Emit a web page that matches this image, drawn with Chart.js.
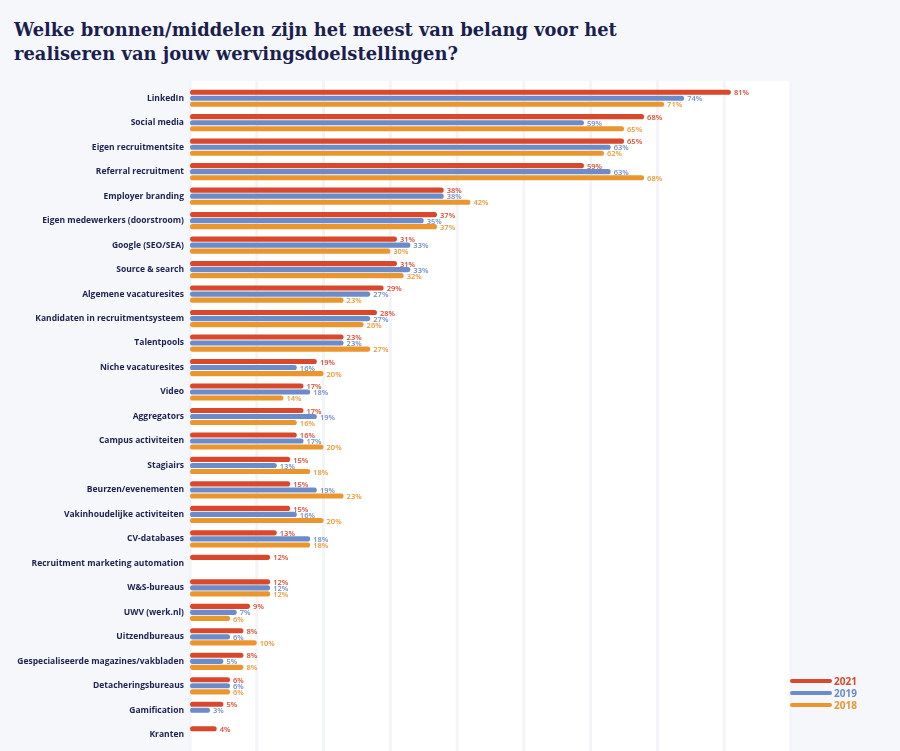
<!DOCTYPE html>
<html>
<head>
<meta charset="utf-8">
<script src="https://cdn.jsdelivr.net/npm/chart.js@4"></script>
<style>
  html, body { margin: 0; padding: 0; background: #f6f7fb; }
  #wrap { position: relative; width: 900px; height: 751px; }
  h1 {
    position: absolute; left: 14px; top: 18px; margin: 0;
    font-family: "DejaVu Serif", serif; font-weight: bold;
    font-size: 17.9px; line-height: 24px; color: #1b1f4d;
  }
  canvas { position: absolute; left: 0; top: 0; }
</style>
</head>
<body>
<div id="wrap">
  <h1>Welke bronnen/middelen zijn het meest van belang voor het<br>realiseren van jouw wervingsdoelstellingen?</h1>
  <canvas id="chart" width="900" height="751"></canvas>
</div>
<script>
const categories = [
  "LinkedIn", "Social media", "Eigen recruitmentsite", "Referral recruitment",
  "Employer branding", "Eigen medewerkers (doorstroom)", "Google (SEO/SEA)",
  "Source & search", "Algemene vacaturesites", "Kandidaten in recruitmentsysteem",
  "Talentpools", "Niche vacaturesites", "Video", "Aggregators", "Campus activiteiten",
  "Stagiairs", "Beurzen/evenementen", "Vakinhoudelijke activiteiten", "CV-databases",
  "Recruitment marketing automation", "W&S-bureaus", "UWV (werk.nl)", "Uitzendbureaus",
  "Gespecialiseerde magazines/vakbladen", "Detacheringsbureaus", "Gamification", "Kranten"
];
const values2021 = [81, 68, 65, 59, 38, 37, 31, 31, 29, 28, 23, 19, 17, 17, 16, 15, 15, 15, 13, 12, 12, 9, 8, 8, 6, 5, 4];
const values2019 = [74, 59, 63, 63, 38, 35, 33, 33, 27, 27, 23, 16, 18, 19, 17, 13, 19, 16, 18, null, 12, 7, 6, 5, 6, 3, null];
const values2018 = [71, 65, 62, 68, 42, 37, 30, 32, 23, 26, 27, 20, 14, 16, 20, 18, 23, 20, 18, null, 12, 6, 10, 8, 6, null, null];
const seriesNames = ["2021", "2019", "2018"];
const seriesColors = ["#d9482b", "#6a8ccb", "#eb952f"];

const navy = "#1b2050";

// witte achtergrond + verticale hulplijnen achter het plotgebied
const plotBg = {
  id: "plotBg",
  beforeDatasetsDraw(chart) {
    const { ctx, chartArea: a } = chart;
    const x = chart.scales.x;
    ctx.save();
    ctx.fillStyle = "#ffffff";
    ctx.fillRect(a.left - 1, a.top - 5, a.right - a.left + 1, chart.height - a.top + 5);
    ctx.strokeStyle = "#f3f4f9";
    ctx.lineWidth = 3;
    x.ticks.forEach(t => {
      const px = x.getPixelForValue(t.value);
      ctx.beginPath();
      ctx.moveTo(px, a.top - 5);
      ctx.lineTo(px, chart.height);
      ctx.stroke();
    });
    ctx.restore();
  }
};

// percentages achter de balken
const valueLabels = {
  id: "valueLabels",
  afterDatasetsDraw(chart) {
    const ctx = chart.ctx;
    ctx.save();
    ctx.font = "600 7.5px 'Open Sans'";
    ctx.textBaseline = "middle";
    chart.data.datasets.forEach((ds, i) => {
      chart.getDatasetMeta(i).data.forEach((bar, j) => {
        if (ds.data[j] == null) return;
        ctx.fillStyle = ds.backgroundColor;
        ctx.fillText(ds.data[j] + "%", bar.x + 3, bar.y + 1);
      });
    });
    ctx.restore();
  }
};

// legenda rechtsonder
const legendBox = {
  id: "legendBox",
  afterDraw(chart) {
    const ctx = chart.ctx;
    const x = chart.chartArea.right;
    ctx.save();
    ctx.font = "bold 10px 'Open Sans'";
    ctx.textBaseline = "middle";
    ctx.lineCap = "round";
    ctx.lineWidth = 4;
    seriesNames.forEach((name, i) => {
      const y = 681 + i * 12;
      ctx.strokeStyle = seriesColors[i];
      ctx.beginPath();
      ctx.moveTo(x + 1, y);
      ctx.lineTo(x + 39, y);
      ctx.stroke();
      ctx.fillStyle = seriesColors[i];
      ctx.fillText(name, x + 43, y + 1);
    });
    ctx.restore();
  }
};

new Chart(document.getElementById("chart"), {
  type: "bar",
  data: {
    labels: categories,
    datasets: [values2021, values2019, values2018].map((vals, i) => ({
      label: seriesNames[i],
      data: vals,
      backgroundColor: seriesColors[i],
      borderRadius: 3,
      borderSkipped: false,
      categoryPercentage: 0.74,
      barPercentage: 0.85,
    })),
  },
  options: {
    indexAxis: "y",
    responsive: false,
    animation: false,
    layout: { padding: { top: 86, right: 109, bottom: 4, left: 0 } },
    plugins: {
      legend: { display: false },
      tooltip: { enabled: false },
    },
    scales: {
      x: {
        display: false,
        min: 0,
        max: 90,
        ticks: { stepSize: 10 },
      },
      y: {
        ticks: {
          color: navy,
          font: { family: "'Open Sans'", size: 8.5, weight: "700" },
          padding: 6,
          autoSkip: false,
        },
        grid: { display: false, drawTicks: false },
        border: { display: false },
        afterFit(scale) {
          scale.width = 190;
          scale.paddingTop = 0;
          scale.paddingBottom = 0;
        },
      },
    },
  },
  plugins: [plotBg, valueLabels, legendBox],
});
</script>
</body>
</html>
